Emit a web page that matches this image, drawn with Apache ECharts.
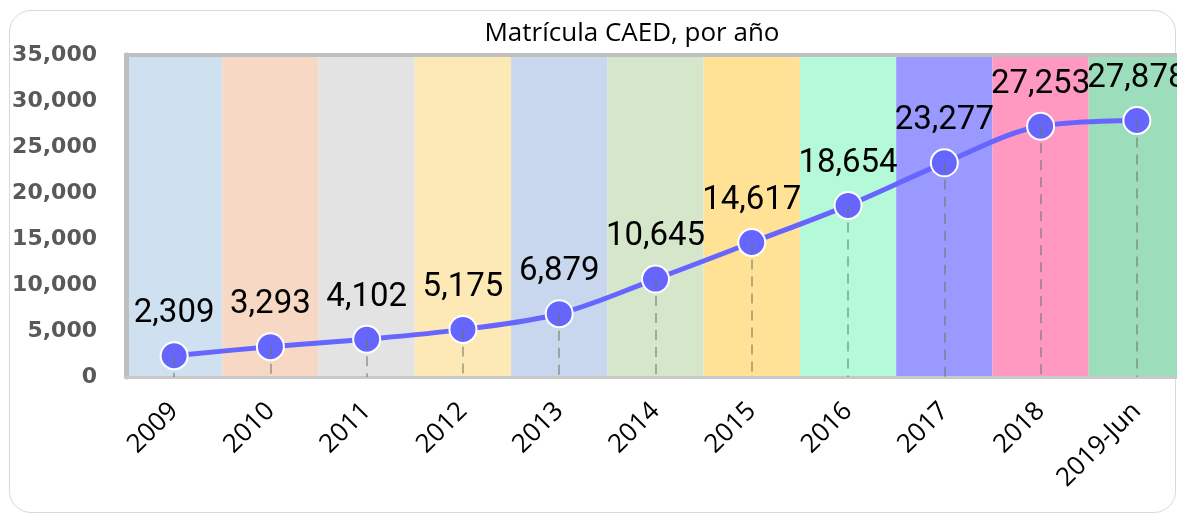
<!DOCTYPE html>
<html>
<head>
<meta charset="utf-8">
<script src="https://cdn.jsdelivr.net/npm/echarts@6/dist/echarts.min.js"></script>
<style>
html,body{margin:0;padding:0;background:#fff;}
#frame{position:absolute;left:9px;top:10px;width:1167px;height:503px;border:1.5px solid #d9d9d9;border-radius:22px;box-sizing:border-box;}
#chart{position:absolute;left:0;top:0;width:1177px;height:514px;}
</style>
</head>
<body>
<div id="frame"></div>
<div id="chart"></div>
<script>
const title = 'Matrícula CAED, por año';
const categories = ['2009','2010','2011','2012','2013','2014','2015','2016','2017','2018','2019-Jun'];
const enrollment = [2309, 3293, 4102, 5175, 6879, 10645, 14617, 18654, 23277, 27253, 27878];
const bandColors = ['#CFE0F0','#F7D8C4','#E3E3E3','#FDE9B5','#C8D7EE','#D5E6CA','#FFE296','#B4FAD8','#9999FF','#FF99C2','#9CDEBC'];
const yMax = 35000;
const yStep = 5000;

const chart = echarts.init(document.getElementById('chart'), null, {renderer:'canvas'});
const fmt = v => v.toLocaleString('en-US');
chart.setOption({
  animation:false,
  title:{text:title,left:627,top:16,textAlign:'center',
    textStyle:{fontFamily:'Open Sans, Noto Sans, sans-serif',fontSize:26,fontWeight:'normal',color:'#000'}},
  grid:{left:126,right:-8,top:55,bottom:137,show:false,outerBoundsMode:'none',containLabel:false},
  xAxis:[{
    type:'category',data:categories,boundaryGap:true,
    axisLine:{show:true,lineStyle:{color:'#C8C8C8',width:3}},
    axisTick:{show:false},
    axisLabel:{rotate:45,interval:0,margin:30,fontFamily:'Open Sans, Noto Sans, sans-serif',fontSize:26,color:'#000'},
    splitLine:{show:false},
    splitArea:{show:true,interval:0,areaStyle:{color:bandColors}}
  },{
    type:'category',data:categories,position:'top',boundaryGap:true,
    axisLine:{show:true,lineStyle:{color:'#BFBFBF',width:4}},
    axisTick:{show:false},axisLabel:{show:false}
  }],
  yAxis:{
    type:'value',min:0,max:yMax,interval:yStep,
    axisLine:{show:true,lineStyle:{color:'#BFBFBF',width:5}},
    axisTick:{show:false},
    splitLine:{show:false},
    axisLabel:{formatter:fmt,margin:29,fontFamily:'DejaVu Sans, Verdana, sans-serif',fontWeight:'bold',fontSize:22,color:'#595959'}
  },
  series:[{
    type:'line',data:enrollment,smooth:0.35,
    lineStyle:{color:'#6666FF',width:5},
    symbol:'circle',symbolSize:27,
    itemStyle:{color:'#6666FF',borderColor:'#fff',borderWidth:2},
    label:{show:true,position:'top',distance:11,formatter:p=>fmt(p.value),
      fontFamily:'Roboto, sans-serif',fontSize:33,color:'#000'},
    markLine:{silent:true,symbol:'none',animation:false,label:{show:false},
      lineStyle:{color:'rgba(105,120,95,0.7)',type:[10,7],width:1.5},
      data:enrollment.map((v,i)=>[{coord:[i,v]},{coord:[i,0]}])},
    z:3
  }]
});
</script>
</body>
</html>
